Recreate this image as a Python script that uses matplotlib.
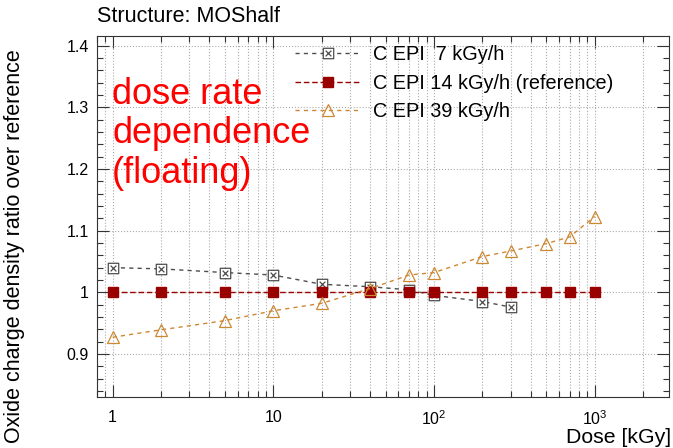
import matplotlib
matplotlib.use("Agg")
import matplotlib.pyplot as plt
from matplotlib.path import Path
from matplotlib.ticker import FixedLocator, FuncFormatter, MultipleLocator, NullFormatter

plt.rcParams['font.family'] = ['Liberation Sans', 'DejaVu Sans']
plt.rcParams['mathtext.fontset'] = 'custom'
plt.rcParams['mathtext.rm'] = 'Liberation Sans'
plt.rcParams['mathtext.it'] = 'Liberation Sans:italic'
plt.rcParams['mathtext.bf'] = 'Liberation Sans:bold'

# Dose points [kGy] and oxide charge density ratios
dose_7 = [1, 2, 5, 10, 20, 40, 70, 100, 200, 300]
ratio_7 = [1.040, 1.038, 1.032, 1.028, 1.013, 1.009, 1.004, 0.995, 0.985, 0.976]

dose_14 = [1, 2, 5, 10, 20, 40, 70, 100, 200, 300, 500, 700, 1000]
ratio_14 = [1.0] * len(dose_14)

dose_39 = [1, 2, 5, 10, 20, 40, 70, 100, 200, 300, 500, 700, 1000]
ratio_39 = [0.927, 0.939, 0.954, 0.970, 0.982, 1.006, 1.028, 1.032, 1.058, 1.067, 1.079, 1.090, 1.123]

labels = ["C EPI  7 kGy/h", "C EPI 14 kGy/h (reference)", "C EPI 39 kGy/h"]
x_major = [1, 10, 100, 1000]
x_major_labels = ["1", "10", "$10^2$", "$10^3$"]

# Open square with a cross inside
boxx = Path(
    [(-1, -1), (1, -1), (1, 1), (-1, 1), (-1, -1),
     (-0.55, -0.55), (0.55, 0.55), (-0.55, 0.55), (0.55, -0.55)],
    [Path.MOVETO, Path.LINETO, Path.LINETO, Path.LINETO, Path.CLOSEPOLY,
     Path.MOVETO, Path.LINETO, Path.MOVETO, Path.LINETO])

W, H = 673, 448
fig = plt.figure(figsize=(W / 100, H / 100), dpi=100)
ax = fig.add_axes([97 / W, (H - 397) / H, (669 - 97) / W, (397 - 36) / H])

c_grey = '#4d4d4d'
c_red = '#990000'
c_orange = '#cc8833'

ax.plot(dose_7, ratio_7, linestyle=(0, (3, 3)), color=c_grey, lw=1.0,
        marker=boxx, ms=7.5, mfc='white', mec=c_grey, mew=0.9, label=labels[0], zorder=3)
ax.plot(dose_14, ratio_14, linestyle=(0, (4, 2)), color=c_red, lw=1.0,
        marker='s', ms=7, mfc=c_red, mec=c_red, label=labels[1], zorder=4)
ax.plot(dose_39, ratio_39, linestyle=(0, (3, 3)), color=c_orange, lw=1.0,
        marker='^', ms=8, mfc='none', mec=c_orange, mew=0.9, label=labels[2], zorder=5)

ax.set_xscale('log')
ax.set_xlim(0.8, 2900)
ax.set_ylim(0.830, 1.416)

ax.xaxis.set_major_locator(FixedLocator(x_major))
ax.xaxis.set_major_formatter(FuncFormatter(
    lambda v, p: x_major_labels[x_major.index(v)] if v in x_major else ""))
minor_x = [m * 10 ** e for e in range(-1, 4) for m in range(2, 10)]
ax.xaxis.set_minor_locator(FixedLocator(minor_x))
ax.xaxis.set_minor_formatter(NullFormatter())

ax.yaxis.set_major_locator(MultipleLocator(0.1))
ax.yaxis.set_minor_locator(MultipleLocator(0.02))
ax.yaxis.set_major_formatter(FuncFormatter(lambda v, p: f"{v:g}"))

ax.tick_params(which='both', direction='in', top=True, right=True,
               labelsize=11.5, width=0.8, color='#333333')
ax.tick_params(which='major', length=8.5, pad=6)
ax.tick_params(axis='x', which='major', pad=9)
ax.tick_params(which='minor', length=4)

ax.grid(True, which='major', axis='both', linestyle=':', color='#aaaaaa', lw=0.8)
ax.grid(True, which='minor', axis='x', linestyle=':', color='#aaaaaa', lw=0.8)
ax.set_axisbelow(True)
for s in ax.spines.values():
    s.set_linewidth(0.8)
    s.set_color('#333333')

fig.text(97 / W, 1 - 16 / H, "Structure: MOShalf", fontsize=15.5, va='center', ha='left')
fig.text(15 / W, 1 - 246 / H,
         "Oxide charge density ratio over reference", fontsize=15.5,
         rotation=90, va='center', ha='center')
fig.text(671 / W, 1 - 437 / H, "Dose [kGy]", fontsize=15.3, va='center', ha='right')

fig.text(112 / W, 1 - 77 / H, "dose rate\ndependence\n(floating)", fontsize=26,
         color='#ff0000', va='top', ha='left', linespacing=1.16)

leg = ax.legend(loc='upper left', bbox_to_anchor=((295 - 97) / 572, 1 - 9 / 361),
                frameon=False, fontsize=14.3, handlelength=3.3, handletextpad=0.65,
                labelspacing=0.48, borderaxespad=0, borderpad=0)

fig.savefig("out.png", dpi=100)
